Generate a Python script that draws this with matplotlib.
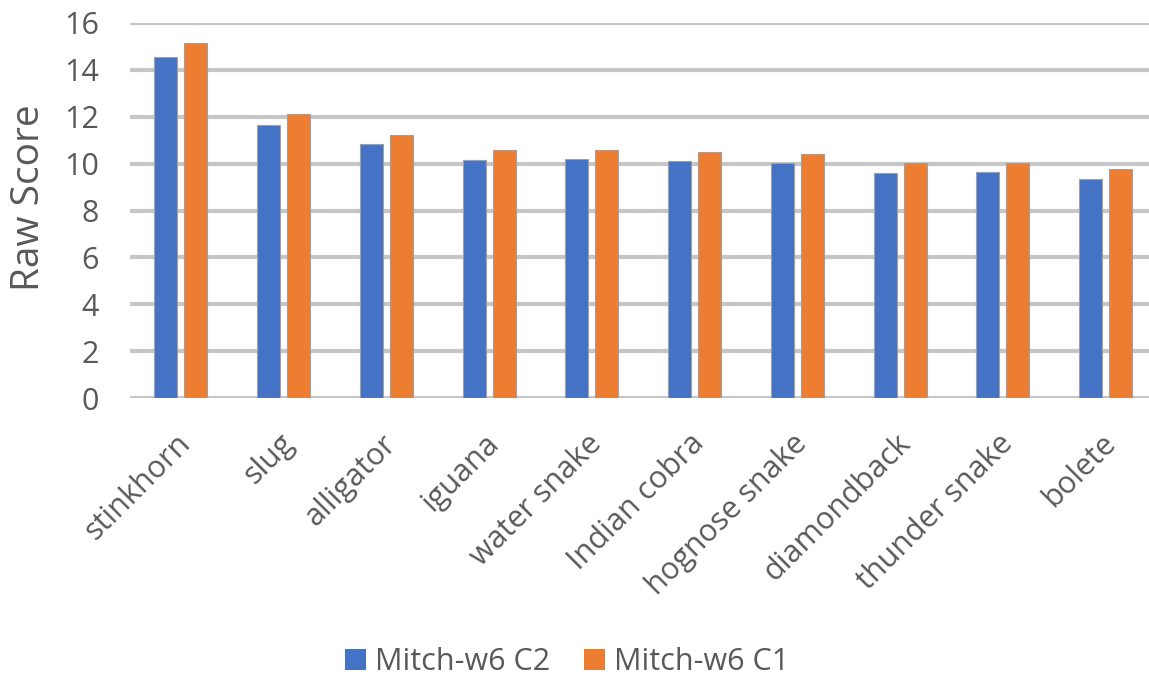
import matplotlib
matplotlib.use("Agg")
import matplotlib.pyplot as plt
import matplotlib.transforms as mtransforms
import numpy as np
from matplotlib.patches import Patch

categories = ["stinkhorn", "slug", "alligator", "iguana", "water snake",
              "Indian cobra", "hognose snake", "diamondback", "thunder snake", "bolete"]
c2_values = [14.56, 11.65, 10.82, 10.17, 10.19, 10.10, 10.01, 9.62, 9.63, 9.36]
c1_values = [15.16, 12.13, 11.23, 10.58, 10.59, 10.50, 10.42, 10.01, 10.01, 9.77]
series_names = ["Mitch-w6 C2", "Mitch-w6 C1"]
y_ticks = [0, 2, 4, 6, 8, 10, 12, 14, 16]

plt.rcParams['font.family'] = ['Open Sans', 'DejaVu Sans']
text_color = "#595959"
blue = "#4472C4"
orange = "#ED7D31"

W, H = 1149, 679
fig = plt.figure(figsize=(W / 100, H / 100), dpi=100)
left_px, right_px, top_px, bottom_px = 129.5, 1157, 23, 398
ax = fig.add_axes([left_px / W, 1 - bottom_px / H,
                   (right_px - left_px) / W, (bottom_px - top_px) / H])

x = np.arange(len(categories))
bw = 0.224
off = 0.146
ax.bar(x - off, c2_values, width=bw, color=blue, edgecolor="#A0A0A0", linewidth=0.8, zorder=3)
ax.bar(x + off, c1_values, width=bw, color=orange, edgecolor="#A0A0A0", linewidth=0.8, zorder=3)

ax.set_xlim(-0.5, len(categories) - 0.5)
ax.set_ylim(0, 16)
ax.set_yticks(y_ticks)
ax.yaxis.grid(True, color="#C6C6C6", linewidth=3, zorder=0)
ax.set_axisbelow(True)
for s in ax.spines.values():
    s.set_visible(False)
ax.tick_params(axis="both", length=0, colors=text_color, labelsize=22)
ax.tick_params(axis="y", pad=22)
ax.set_xticks(x)
ax.set_xticklabels(categories, rotation=45, ha="right", rotation_mode="anchor",
                   fontsize=22, color=text_color)
ax.tick_params(axis="x", pad=22)
shift = mtransforms.ScaledTranslation(-5 / 100, 0, fig.dpi_scale_trans)
for lbl in ax.get_xticklabels():
    lbl.set_transform(lbl.get_transform() + shift)

fig.text(29 / W, 1 - 198 / H, "Raw Score", rotation=90, ha="center", va="center",
         fontsize=28, color=text_color)

handles = [Patch(facecolor=blue, edgecolor="none"), Patch(facecolor=orange, edgecolor="none")]
fig.legend(handles, series_names, loc="center", bbox_to_anchor=(567 / W, 1 - 662 / H),
           ncol=2, frameon=False, fontsize=22, labelcolor=text_color,
           handlelength=0.68, handleheight=0.68, handletextpad=0.3, columnspacing=1.1)

fig.savefig("out.png", dpi=100)
